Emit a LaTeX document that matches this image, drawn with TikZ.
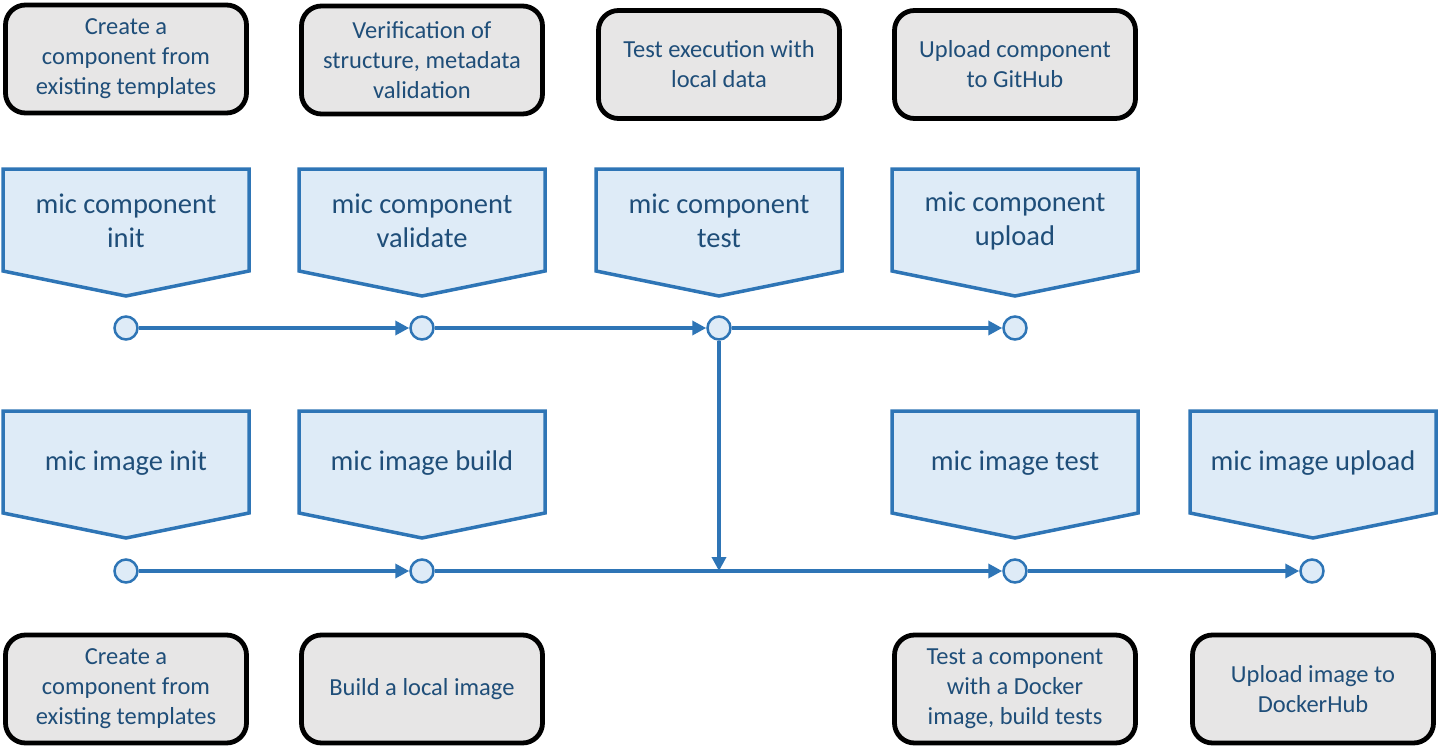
\documentclass[tikz,border=0pt]{standalone}
\usepackage{fontspec}
\setmainfont{Carlito}
\usetikzlibrary{arrows.meta}
\definecolor{txt}{HTML}{1F4E79}
\definecolor{pfill}{HTML}{DEEBF7}
\definecolor{pline}{HTML}{2E75B6}
\definecolor{bfill}{HTML}{E7E6E6}
\tikzset{
  infobox/.style={draw=black, line width=4.8pt, fill=bfill, rounded corners=20pt,
    minimum width=241pt, minimum height=108pt, align=center, text=txt,
    font=\fontsize{24.5pt}{30pt}\selectfont, inner sep=0pt},
  pentshape/.style={draw=pline, line width=3.5pt, fill=pfill, line join=miter},
  penttext/.style={align=center, text=txt, font=\fontsize{28.5pt}{34pt}\selectfont, inner sep=0pt},
  dot/.style={circle, draw=pline, line width=2.5pt, fill=pfill, minimum size=23pt, inner sep=0pt},
  conn/.style={draw=pline, line width=3.5pt, -{Triangle[length=14pt,width=14pt]}},
  plain/.style={draw=pline, line width=3.5pt}
}
\newcommand{\pentagon}[5]{% name, cx, top, text, textoffset
  \path[pentshape] (#2-123,-#3) -- (#2+123,-#3) -- (#2+123,-#3-102) -- (#2,-#3-127) -- (#2-123,-#3-102) -- cycle;
  \node[penttext] (#1) at (#2,-#3-#5) {#4};
}
\begin{document}
\begin{tikzpicture}[x=1pt,y=1pt]
\useasboundingbox (0,0) rectangle (1440,-749);
% top info boxes
\node[infobox] (b1) at (126,-59) {Create a\\component from\\existing templates};
\node[infobox] (b2) at (422,-60) {Verification of\\structure, metadata\\validation};
\node[infobox] (b3) at (719,-64.5) {Test execution with\\local data};
\node[infobox] (b4) at (1015,-64.5) {Upload component\\to GitHub};
% pentagons row 1
\pentagon{p1}{126}{169}{mic component\\init}{52}
\pentagon{p2}{422}{169}{mic component\\validate}{52}
\pentagon{p3}{719}{169}{mic component\\test}{52}
\pentagon{p4}{1015}{169}{mic component\\upload}{52}
% pentagons row 2
\pentagon{p5}{126}{411}{mic image init}{52}
\pentagon{p6}{422}{411}{mic image build}{52}
\pentagon{p7}{1015}{411}{mic image test}{52}
\pentagon{p8}{1313}{411}{mic image upload}{52}
% dots row 1
\node[dot] (c1) at (126,-328) {};
\node[dot] (c2) at (422,-328) {};
\node[dot] (c3) at (719,-328) {};
\node[dot] (c4) at (1015,-328) {};
% dots row 2
\node[dot] (d1) at (126,-571) {};
\node[dot] (d2) at (422,-571) {};
\coordinate (j) at (719,-571);
\node[dot] (d3) at (1015,-571) {};
\node[dot] (d4) at (1312,-571) {};
% connectors
\draw[conn] (c1) -- (c2);
\draw[conn] (c2) -- (c3);
\draw[conn] (c3) -- (c4);
\draw[conn] (c3) -- (j);
\draw[conn] (d1) -- (d2);
\draw[plain] (d2) -- (j);
\draw[conn] (j) -- (d3);
\draw[conn] (d3) -- (d4);
% bottom info boxes
\node[infobox] (e1) at (126,-689) {Create a\\component from\\existing templates};
\node[infobox] (e2) at (422,-689) {Build a local image};
\node[infobox] (e3) at (1015,-689) {Test a component\\with a Docker\\image, build tests};
\node[infobox] (e4) at (1313,-689) {Upload image to\\DockerHub};
\end{tikzpicture}
\end{document}
